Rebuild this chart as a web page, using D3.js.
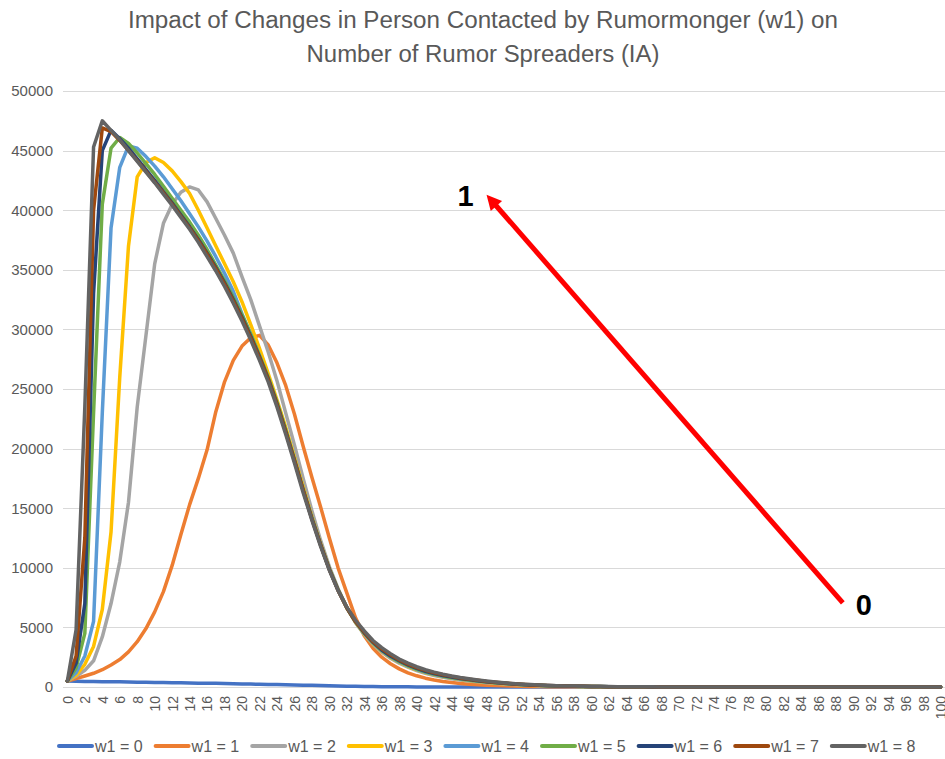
<!DOCTYPE html>
<html>
<head>
<meta charset="utf-8">
<script src="https://d3js.org/d3.v7.min.js"></script>
<style>
  body { margin: 0; background: #fff; }
  svg text { font-family: "Liberation Sans", Arial, sans-serif; fill: #595959; }
</style>
</head>
<body>
<div id="chart"></div>
<script>
// category axis (time step)
let steps = [0,1,2,3,4,5,6,7,8,9,10,11,12,13,14,15,16,17,18,19,20,21,22,23,24,25,26,27,28,29,30,
  31,32,33,34,35,36,37,38,39,40,41,42,43,44,45,46,47,48,49,50,51,52,53,54,55,56,57,58,59,60,
  61,62,63,64,65,66,67,68,69,70,71,72,73,74,75,76,77,78,79,80,81,82,83,84,85,86,87,88,89,90,
  91,92,93,94,95,96,97,98,99,100];

let titleLines = ["Impact of Changes in Person Contacted by Rumormonger (w1) on", "Number of Rumor Spreaders (IA)"];
let yTicks = [0, 5000, 10000, 15000, 20000, 25000, 30000, 35000, 40000, 45000, 50000];
let seriesNames = ["w1 = 0", "w1 = 1", "w1 = 2", "w1 = 3", "w1 = 4", "w1 = 5", "w1 = 6", "w1 = 7", "w1 = 8"];
let seriesColors = ["#4472C4", "#ED7D31", "#A5A5A5", "#FFC000", "#5B9BD5", "#70AD47", "#264478", "#9E480E", "#636363"];

let w1_0 = [500,480,470,460,450,440,430,420,405,395,
  385,375,365,355,340,325,315,305,290,275,
  260,245,230,215,200,185,170,155,140,125,
  105,88,72,58,46,36,28,21,15,11,
  8,6,4,3,2,2,1,1,1,0,
  0,0,0,0,0,0,0,0,0,0, 0,0,0,0,0,0,0,0,0,0, 0,0,0,0,0,0,0,0,0,0,
  0,0,0,0,0,0,0,0,0,0, 0,0,0,0,0,0,0,0,0,0, 0];

let w1_1 = [500,700,920,1150,1450,1850,2300,2950,3800,4900,
  6300,8000,10200,12800,15300,17500,19900,23100,25600,27400,
  28600,29300,29500,28700,27200,25300,22900,20200,17600,15100,
  12500,10000,7900,5800,4300,3250,2500,1950,1520,1190,
  940,740,590,470,375,300,240,190,150,120,
  95,75,60,47,37,29,23,18,14,11,
  9,7,5,4,3,2,2,1,1,1,
  0,0,0,0,0,0,0,0,0,0, 0,0,0,0,0,0,0,0,0,0, 0,0,0,0,0,0,0,0,0,0, 0];

let w1_2 = [500,900,1400,2200,4200,7000,10500,15500,23500,29500,
  35500,38900,40500,41500,41950,41700,40700,39300,37900,36400,
  34400,32500,30300,28100,25700,23000,20300,17500,14800,12300,
  10100,8250,6700,5400,4400,3580,2930,2410,2000,1660,
  1380,1150,970,820,700,595,505,430,365,310,
  260,215,178,146,119,97,79,64,52,42,
  34,28,22,18,14,11,9,7,6,5,
  4,3,2,2,1,1,1,1,0,0,
  0,0,0,0,0,0,0,0,0,0, 0,0,0,0,0,0,0,0,0,0, 0];

let w1_3 = [500,1000,1900,3400,6500,13000,26000,37000,42800,44000,
  44400,44000,43300,42400,41400,40000,38500,37000,35500,34000,
  32300,30400,28400,26300,24100,21800,19300,16800,14300,12000,
  9950,8150,6650,5420,4440,3640,2990,2480,2070,1720,
  1430,1200,1020,870,745,640,545,465,395,335,
  280,232,190,157,128,104,85,70,57,47,
  38,31,25,20,16,13,10,8,7,5,
  4,3,3,2,2,1,1,1,1,0,
  0,0,0,0,0,0,0,0,0,0, 0,0,0,0,0,0,0,0,0,0, 0];

let w1_4 = [500,1200,2600,5500,23000,38500,43600,45400,45200,44500,
  43700,42800,41800,40800,39700,38600,37400,36100,34700,33200,
  31300,29600,27800,25900,23800,21500,19100,16600,14200,11950,
  9950,8150,6650,5450,4480,3680,3030,2520,2110,1760,
  1470,1240,1050,900,770,660,565,485,415,350,
  295,245,200,165,135,110,90,74,60,50,
  40,33,27,22,17,14,11,9,7,6,
  5,4,3,2,2,1,1,1,1,1,
  0,0,0,0,0,0,0,0,0,0, 0,0,0,0,0,0,0,0,0,0, 0];

let w1_5 = [500,1600,4500,23000,40500,45200,46100,45600,44800,43900,
  43000,42000,41000,40000,39000,37900,36700,35400,34100,32700,
  31200,29600,27800,26000,23900,21600,19100,16600,14200,11950,
  9900,8150,6650,5480,4520,3720,3070,2560,2150,1800,
  1510,1280,1090,930,800,690,590,505,430,365,
  305,250,205,170,140,115,93,77,63,52,
  42,34,28,23,18,15,12,10,8,6,
  5,4,3,2,2,2,1,1,1,1,
  0,0,0,0,0,0,0,0,0,0, 0,0,0,0,0,0,0,0,0,0, 0];

let w1_6 = [500,2000,7000,33000,45000,46700,46000,45200,44300,43400,
  42500,41550,40600,39600,38600,37550,36400,35200,33900,32500,
  31000,29400,27700,25850,23750,21450,19000,16500,14100,11900,
  9850,8100,6650,5500,4550,3750,3100,2600,2200,1850,
  1560,1320,1130,970,840,720,620,530,450,380,
  315,260,215,178,148,120,97,80,66,54,
  44,36,29,24,19,15,12,10,8,7,
  5,4,3,3,2,2,1,1,1,1,
  1,0,0,0,0,0,0,0,0,0, 0,0,0,0,0,0,0,0,0,0, 0];

let w1_7 = [500,2600,12500,40000,46900,46600,45850,45000,44150,43250,
  42350,41450,40500,39500,38500,37450,36300,35100,33800,32400,
  30900,29300,27600,25800,23700,21400,19000,16500,14100,11900,
  9850,8100,6650,5500,4600,3800,3200,2700,2270,1920,
  1630,1390,1190,1030,890,760,650,560,470,400,
  330,275,225,185,155,125,100,82,68,56,
  45,37,30,25,20,16,13,11,9,7,
  5,4,3,3,2,2,1,1,1,1,
  1,1,0,0,0,0,0,0,0,0, 0,0,0,0,0,0,0,0,0,0, 0];

let w1_8 = [500,4800,23500,45300,47500,46700,45900,45000,44100,43200,
  42300,41350,40400,39400,38400,37300,36100,34900,33600,32200,
  30700,29100,27400,25600,23500,21200,18800,16300,14000,11800,
  9800,8100,6700,5600,4700,3900,3300,2800,2350,2000,
  1700,1450,1250,1080,930,800,690,590,500,420,
  350,290,240,200,165,135,110,90,75,62,
  50,41,34,28,23,18,15,12,10,8,
  6,5,4,3,3,2,2,2,1,1,
  1,1,1,0,0,0,0,0,0,0, 0,0,0,0,0,0,0,0,0,0, 0];

let seriesValues = [w1_0, w1_1, w1_2, w1_3, w1_4, w1_5, w1_6, w1_7, w1_8];

let width = 945, height = 759;
let plot = {left: 63, right: 945, top: 91, bottom: 687};

let svg = d3.select("#chart").append("svg")
  .attr("width", width)
  .attr("height", height);

let x = d3.scaleLinear()
  .domain([-0.5, 100.5])
  .range([plot.left, plot.right]);

let y = d3.scaleLinear()
  .domain([0, 50000])
  .range([plot.bottom, plot.top]);

// title
svg.selectAll(".title")
  .data(titleLines)
  .enter().append("text")
  .attr("class", "title")
  .attr("x", 483)
  .attr("y", (d, i) => 28 + i * 34)
  .attr("text-anchor", "middle")
  .attr("textLength", (d, i) => i == 0 ? 710 : 353)
  .attr("lengthAdjust", "spacingAndGlyphs")
  .style("font-size", "23px")
  .text(d => d);

// gridlines
svg.append("g")
  .attr("class", "grid")
  .selectAll("line")
  .data(yTicks)
  .enter().append("line")
  .attr("x1", plot.left)
  .attr("x2", plot.right)
  .attr("y1", d => Math.round(y(d)) + 0.5)
  .attr("y2", d => Math.round(y(d)) + 0.5)
  .attr("stroke", "#D9D9D9")
  .attr("stroke-width", 1);

// y axis labels
let yAxis = svg.append("g")
  .attr("transform", "translate(" + plot.left + ",0)")
  .call(d3.axisLeft(y).tickValues(yTicks).tickSize(0).tickPadding(10).tickFormat(d3.format("d")));
yAxis.select(".domain").remove();
yAxis.selectAll("text")
  .style("font-size", "15px")
  .style("font-family", null)
  .attr("fill", "#595959");

// x axis labels (every second step, rotated)
let xAxis = svg.append("g")
  .attr("transform", "translate(0," + plot.bottom + ")")
  .call(d3.axisBottom(x).tickValues(steps.filter(d => d % 2 == 0)).tickSize(0).tickFormat(d3.format("d")));
xAxis.select(".domain").remove();
xAxis.selectAll("text")
  .attr("transform", "rotate(-90)")
  .attr("x", -9)
  .attr("y", 0)
  .attr("dy", "0.35em")
  .style("text-anchor", "end")
  .style("font-size", "14px")
  .attr("fill", "#595959");

// series lines
let line = d3.line()
  .x((d, i) => x(steps[i]))
  .y(d => y(d));

svg.append("g")
  .selectAll("path")
  .data(seriesValues)
  .enter().append("path")
  .attr("d", line)
  .attr("fill", "none")
  .attr("stroke", (d, i) => seriesColors[i])
  .attr("stroke-width", 3.5)
  .attr("stroke-linejoin", "round")
  .attr("stroke-linecap", "round");

// annotation arrow, from 0 up to 1
let arrowFrom = [88.8, 7050], arrowTo = [48, 41300];
let x0 = x(arrowFrom[0]), y0 = y(arrowFrom[1]);
let x1 = x(arrowTo[0]), y1 = y(arrowTo[1]);
let ang = Math.atan2(y1 - y0, x1 - x0);
let headLen = 15, headW = 7.5;
let bx = x1 - headLen * Math.cos(ang), by = y1 - headLen * Math.sin(ang);

svg.append("line")
  .attr("x1", x0).attr("y1", y0)
  .attr("x2", x1 - 8 * Math.cos(ang)).attr("y2", y1 - 8 * Math.sin(ang))
  .attr("stroke", "#FF0000")
  .attr("stroke-width", 5);

svg.append("path")
  .attr("d", "M" + x1 + "," + y1 +
    "L" + (bx + headW * Math.sin(ang)) + "," + (by - headW * Math.cos(ang)) +
    "L" + (bx - headW * Math.sin(ang)) + "," + (by + headW * Math.cos(ang)) + "Z")
  .attr("fill", "#FF0000");

svg.append("text")
  .attr("x", x1 - 21)
  .attr("y", y1 + 11)
  .attr("text-anchor", "middle")
  .style("font-size", "29px")
  .style("font-weight", "bold")
  .style("fill", "#000")
  .text("1");

svg.append("text")
  .attr("x", x0 + 21)
  .attr("y", y0 + 12)
  .attr("text-anchor", "middle")
  .style("font-size", "29px")
  .style("font-weight", "bold")
  .style("fill", "#000")
  .text("0");

// legend
let legend = svg.append("g")
  .selectAll("g")
  .data(seriesNames)
  .enter().append("g")
  .attr("transform", (d, i) => "translate(" + (57 + i * 96.6) + ",746)");

legend.append("line")
  .attr("x1", 2).attr("x2", 35)
  .attr("stroke", (d, i) => seriesColors[i])
  .attr("stroke-width", 4)
  .attr("stroke-linecap", "round");

legend.append("text")
  .attr("x", 38)
  .attr("dy", "0.35em")
  .style("font-size", "16px")
  .text(d => d);
</script>
</body>
</html>
